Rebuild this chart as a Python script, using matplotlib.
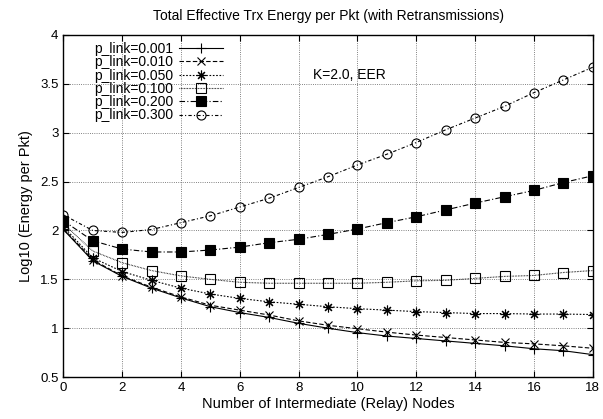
import matplotlib.pyplot as plt

plt.rcParams['font.family'] = ['Liberation Sans', 'DejaVu Sans']
plt.rcParams['font.size'] = 10

nodes = list(range(19))
p_labels = ["p_link=0.001", "p_link=0.010", "p_link=0.050",
            "p_link=0.100", "p_link=0.200", "p_link=0.300"]

e_001 = [2.01, 1.69, 1.53, 1.41, 1.31, 1.22, 1.16, 1.11, 1.05, 1.00,
         0.955, 0.92, 0.895, 0.87, 0.845, 0.82, 0.79, 0.77, 0.73]
e_010 = [2.02, 1.70, 1.535, 1.42, 1.32, 1.235, 1.185, 1.135, 1.075, 1.03,
         0.995, 0.96, 0.93, 0.905, 0.88, 0.855, 0.84, 0.82, 0.795]
e_050 = [2.04, 1.72, 1.58, 1.49, 1.41, 1.35, 1.305, 1.27, 1.245, 1.22,
         1.20, 1.185, 1.17, 1.16, 1.15, 1.15, 1.145, 1.145, 1.14]
e_100 = [2.07, 1.79, 1.67, 1.59, 1.535, 1.50, 1.47, 1.46, 1.46, 1.46,
         1.46, 1.47, 1.485, 1.49, 1.51, 1.53, 1.54, 1.57, 1.59]
e_200 = [2.10, 1.895, 1.81, 1.78, 1.78, 1.80, 1.83, 1.875, 1.91, 1.96,
         2.015, 2.08, 2.14, 2.21, 2.28, 2.345, 2.41, 2.49, 2.56]
e_300 = [2.16, 2.00, 1.98, 2.01, 2.08, 2.15, 2.24, 2.33, 2.44, 2.55,
         2.67, 2.78, 2.90, 3.03, 3.15, 3.27, 3.41, 3.54, 3.67]

fig = plt.figure(figsize=(6.03, 4.19), dpi=100)
ax = fig.add_axes([0.105, 0.1, 0.878, 0.8165])

lw = 0.8
ax.plot(nodes, e_001, color='k', lw=lw, ls='-', marker='+', ms=7, mew=0.8, label=p_labels[0])
ax.plot(nodes, e_010, color='k', lw=lw, ls=(0, (4, 2)), marker='x', ms=6, mew=0.8, label=p_labels[1])
ax.plot(nodes, e_050, color='k', lw=lw, ls=(0, (1.5, 1.5)), marker=(8, 2, 0), ms=7, mew=0.8, label=p_labels[2])
ax.plot(nodes, e_100, color='k', lw=lw, ls=(0, (0.6, 0.8)), marker='s', ms=6.5, mfc='none', mew=0.8, label=p_labels[3])
ax.plot(nodes, e_200, color='k', lw=lw, ls=(0, (5, 2, 1, 2)), marker='s', ms=6.5, mfc='k', mew=0.8, label=p_labels[4])
ax.plot(nodes, e_300, color='k', lw=lw, ls=(0, (3, 2, 1, 2)), marker='o', ms=6.5, mfc='none', mew=0.8, label=p_labels[5])

ax.set_xlim(0, 18)
ax.set_ylim(0.5, 4)
ax.set_xticks(range(0, 19, 2))
ax.set_yticks([0.5, 1, 1.5, 2, 2.5, 3, 3.5, 4])
ax.set_yticklabels(['0.5', '1', '1.5', '2', '2.5', '3', '3.5', '4'])
ax.tick_params(direction='in', top=True, right=True, length=4, width=0.8, labelsize=9.5)
ax.grid(True, ls=':', color='0.35', lw=0.6)
for s in ax.spines.values():
    s.set_linewidth(1.0)

ax.set_title("Total Effective Trx Energy per Pkt (with Retransmissions)", fontsize=10, pad=11)
ax.set_xlabel("Number of Intermediate (Relay) Nodes", fontsize=10.5, labelpad=2)
ax.set_ylabel("Log10 (Energy per Pkt)", fontsize=10.5, labelpad=5)
ax.text(8.5, 3.59, "K=2.0, EER", fontsize=10, va='center')

leg = ax.legend(loc='upper left', bbox_to_anchor=(0.045, 1.0), frameon=False, markerfirst=False,
                handlelength=3.2, labelspacing=-0.05, borderaxespad=0.1, handletextpad=0.4,
                fontsize=10)

fig.savefig("out.png", dpi=100)
